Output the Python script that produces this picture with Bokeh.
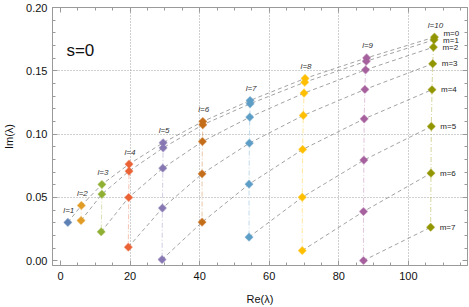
import numpy as np
from bokeh.plotting import figure
from bokeh.models import ColumnDataSource, FixedTicker, LinearAxis, Label, Range1d
from bokeh.core.properties import value
from bokeh.embed import file_html
from bokeh.resources import INLINE

# ---- data ----
ells = [1, 2, 3, 4, 5, 6, 7, 8, 9, 10]

re_l1 = [2.1]
re_l2 = [6.0, 5.9]
re_l3 = [11.9, 11.9, 11.7]
re_l4 = [19.7, 19.7, 19.6, 19.5]
re_l5 = [29.5, 29.5, 29.4, 29.3, 29.2]
re_l6 = [40.9, 40.9, 40.8, 40.7, 40.7]
re_l7 = [54.5, 54.5, 54.4, 54.3, 54.2, 54.2]
re_l8 = [70.3, 70.2, 70.0, 69.8, 69.6, 69.5, 69.5]
re_l9 = [88.0, 87.9, 87.7, 87.5, 87.3, 87.2, 87.1, 87.1]
re_l10 = [107.5, 107.4, 107.2, 107.0, 106.8, 106.6, 106.5, 106.4]

im_l1 = [0.0303]
im_l2 = [0.0437, 0.0318]
im_l3 = [0.0603, 0.0526, 0.0229]
im_l4 = [0.0763, 0.0708, 0.0500, 0.0108]
im_l5 = [0.0932, 0.0892, 0.0731, 0.0416, 0.0010]
im_l6 = [0.1100, 0.1074, 0.0942, 0.0687, 0.0305]
im_l7 = [0.1266, 0.1240, 0.1134, 0.0929, 0.0605, 0.0187]
im_l8 = [0.1440, 0.1410, 0.1324, 0.1148, 0.0879, 0.0502, 0.0081]
im_l9 = [0.1602, 0.1576, 0.1508, 0.1353, 0.1121, 0.0795, 0.0389, 0.0002]
im_l10 = [0.1766, 0.1745, 0.1687, 0.1556, 0.1351, 0.1061, 0.0692, 0.0265]

m_labels = ["m=0", "m=1", "m=2", "m=3", "m=4", "m=5", "m=6", "m=7"]
l_labels = ["l=%d" % l for l in ells]
panel_label = "s=0"

x_major = [0, 20, 40, 60, 80, 100]
x_minor = list(range(5, 120, 5))
y_major = [0.0, 0.05, 0.10, 0.15, 0.20]
y_minor = [round(0.01 * i, 2) for i in range(0, 21)]
x_grid = [20, 40, 60, 80, 100]
y_grid = [0.05, 0.10, 0.15]

colors = ["#5E81B5", "#E19C24", "#8FB032", "#EB6235", "#8778B3",
          "#C56E1A", "#5D9EC7", "#FFBF00", "#A5609D", "#929600"]

re_all = [re_l1, re_l2, re_l3, re_l4, re_l5, re_l6, re_l7, re_l8, re_l9, re_l10]
im_all = [im_l1, im_l2, im_l3, im_l4, im_l5, im_l6, im_l7, im_l8, im_l9, im_l10]

FONT = "Liberation Sans"

p = figure(width=469, height=307, output_backend="svg", toolbar_location=None,
           x_range=Range1d(-2.3, 117.0), y_range=Range1d(-0.0037, 0.2),
           min_border_left=49, min_border_right=2, min_border_top=7,
           min_border_bottom=42)
p.background_fill_color = "white"
p.border_fill_color = "white"
p.outline_line_color = "#9a9a9a"
p.outline_line_width = 1

def style_axis(ax, ticks, minor, show_labels):
    ax.ticker = FixedTicker(ticks=ticks, minor_ticks=minor)
    ax.axis_line_color = "#9a9a9a"
    ax.major_tick_line_color = "#9a9a9a"
    ax.minor_tick_line_color = "#9a9a9a"
    ax.major_tick_in = 5
    ax.major_tick_out = 0
    ax.minor_tick_in = 3
    ax.minor_tick_out = 0
    if show_labels:
        ax.major_label_text_font = FONT
        ax.major_label_text_font_size = "11px"
        ax.major_label_text_color = "#111111"
        ax.axis_label_text_font = FONT
        ax.axis_label_text_font_size = "11px"
        ax.axis_label_text_font_style = "normal"
        ax.axis_label_text_color = "#111111"
    else:
        ax.major_label_text_font_size = "0px"
        ax.major_label_standoff = 0
        ax.axis_label_standoff = 0
        ax.major_label_text_alpha = 0

xa = p.xaxis[0]
ya = p.yaxis[0]
style_axis(xa, x_major, x_minor, True)
style_axis(ya, y_major, y_minor, True)
xa.major_label_overrides = {t: str(t) for t in x_major}
ya.major_label_overrides = {t: "%.2f" % t for t in y_major}
xa.axis_label = "Re(\u03bb)"
ya.axis_label = "Im(\u03bb)"
xa.major_label_standoff = 6
xa.axis_label_standoff = 10
ya.major_label_standoff = 5
ya.axis_label_standoff = 8

top_ax = LinearAxis()
right_ax = LinearAxis()
style_axis(top_ax, x_major, x_minor, False)
style_axis(right_ax, y_major, y_minor, False)
p.add_layout(top_ax, "above")
p.add_layout(right_ax, "right")

p.xgrid.ticker = FixedTicker(ticks=x_grid)
p.ygrid.ticker = FixedTicker(ticks=y_grid)
for g in (p.xgrid[0], p.ygrid[0]):
    g.grid_line_color = "#a0a0a0"
    g.grid_line_dash = "1 2"
    g.grid_line_width = 1

# gray dashed curves joining equal m across l
n_m = max(len(v) for v in im_all)
for m in range(n_m):
    xs = [re_all[i][m] for i in range(len(ells)) if len(im_all[i]) > m]
    ys = [im_all[i][m] for i in range(len(ells)) if len(im_all[i]) > m]
    p.line(xs, ys, line_color="#8a8a8a", line_width=0.8, line_dash="4 3")

# coloured vertical connectors and markers
for i, l in enumerate(ells):
    c = colors[i]
    if len(im_all[i]) > 1:
        p.line(re_all[i], im_all[i], line_color=c, line_alpha=0.35, line_width=1.1,
               line_dash="5 2 1 2")
for i, l in enumerate(ells):
    c = colors[i]
    p.scatter(re_all[i], im_all[i], marker="square", angle=np.pi / 4, size=5.5,
              fill_color=c, line_color=c, line_alpha=0.5, line_width=1.2)

# l labels above each column
lsrc = ColumnDataSource(dict(x=[r[0] for r in re_all], y=[v[0] for v in im_all],
                             t=l_labels))
p.text(x="x", y="y", text="t", source=lsrc, text_font=value(FONT),
       text_font_size="8px", text_font_style="italic", text_color="#333333",
       text_align="center", text_baseline="middle", y_offset=-12, x_offset=1)

# m labels next to the l=10 column
m_yoff = [-4, 1, 0, 0, 0, 0, 0, 0]
msrc = ColumnDataSource(dict(x=re_l10, y=im_l10, t=m_labels[:len(im_l10)],
                             yo=m_yoff[:len(im_l10)]))
p.text(x="x", y="y", text="t", source=msrc, text_font=value(FONT),
       text_font_size="8px", text_color="#222222", text_align="left",
       text_baseline="middle", x_offset=9, y_offset="yo")

p.add_layout(Label(x=1.7, y=0.166, text=panel_label, text_font=FONT,
                   text_font_size="17px", text_color="#111111",
                   text_baseline="alphabetic", text_align="left"))

open("out.html", "w").write(file_html(p, INLINE))
